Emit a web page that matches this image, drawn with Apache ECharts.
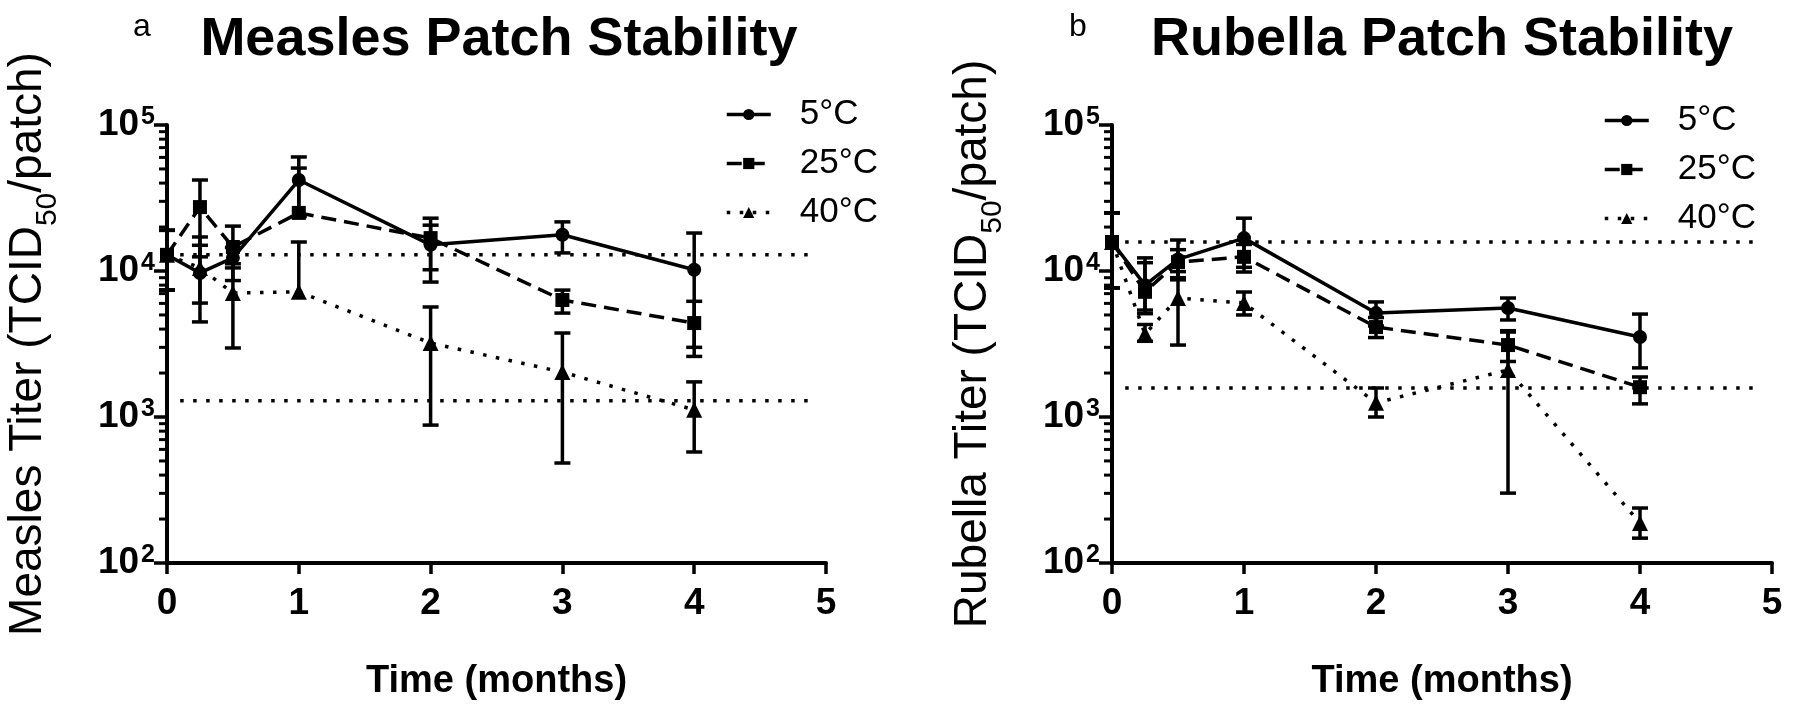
<!DOCTYPE html>
<html>
<head>
<meta charset="utf-8">
<script src="https://cdn.jsdelivr.net/npm/echarts@6/dist/echarts.min.js"></script>
<style>
html,body{margin:0;padding:0;background:#fff;}
#chart{width:1800px;height:713px;}
</style>
</head>
<body>
<div id="chart"></div>
<script>
// ---- data ----
var times = [0, 0.25, 0.5, 1, 2, 3, 4];
var seriesNames = ['5°C', '25°C', '40°C'];
var xTicks = [0, 1, 2, 3, 4, 5];
var yTicks = [100, 1000, 10000, 100000];

// Measles
var measles5 = [12900, 9700, 12300, 42000, 15100, 17700, 10200];
var measles5Low = [7400, 4480, 10500, 23600, 10200, 13300, 3000];
var measles5High = [19000, 17100, 14500, 60400, 20600, 21700, 18200];
var measles25 = [12900, 27400, 14600, 25000, 16800, 6330, 4400];
var measles25Low = [7400, 12500, 8600, null, 8400, 5150, 2600];
var measles25High = [19000, 42000, 20300, 50700, 23000, 7400, 6200];
var measles40 = [12900, 10500, 7060, 7200, 3210, 2030, 1120];
var measles40Low = [7400, 6030, 2970, null, 880, 484, 576];
var measles40High = [19000, 15000, 11200, 15800, 5670, 3760, 1740];
var measlesRef = [12900, 1290];

// Rubella
var rubella5 = [15800, 8000, 12000, 16800, 5150, 5580, 3530];
var rubella5Low = [7660, 5400, 8700, 10600, 4200, 4620, 2170];
var rubella5High = [25000, 12300, 16300, 23000, 6140, 6530, 5070];
var rubella25 = [15800, 7200, 11500, 12500, 4130, 3110, 1600];
var rubella25Low = [7660, 5100, 9000, 9840, 3500, 2400, 1230];
var rubella25High = [25000, 11400, 14000, 15200, 4800, 3820, 1880];
var rubella40 = [15800, 3700, 6530, 6040, 1250, 2100, 188];
var rubella40Low = [7660, 3300, 3110, 5000, 1000, 301, 148];
var rubella40High = [25000, 4300, 9900, 7180, 1580, 3900, 238];
var rubellaRef = [15800, 1580];
var refSpan = [0.1, 4.9];

// ---- helpers ----
var FONT = 'Liberation Sans, Arial, Helvetica, sans-serif';
var minorTicks = [];
[100, 1000, 10000].forEach(function (d) {
  for (var k = 2; k <= 9; k++) minorTicks.push(d * k);
});

function pts(vals) { return times.map(function (t, i) { return [t, vals[i]]; }); }
function errData(vals, lo, hi) {
  return times.map(function (t, i) {
    return [t, vals[i], lo[i] == null ? '-' : lo[i], hi[i] == null ? '-' : hi[i]];
  });
}
var CAP = 8;
function renderErr(params, api) {
  var x = api.value(0), m = api.value(1), lo = api.value(2), hi = api.value(3);
  var pm = api.coord([x, m]);
  var ch = [];
  var st = { stroke: '#000', lineWidth: 3.5, fill: null };
  [lo, hi].forEach(function (v) {
    if (v == null || isNaN(v)) return;
    var p = api.coord([x, v]);
    ch.push({ type: 'line', shape: { x1: pm[0], y1: pm[1], x2: p[0], y2: p[1] }, style: st });
    ch.push({ type: 'line', shape: { x1: p[0] - CAP, y1: p[1], x2: p[0] + CAP, y2: p[1] }, style: st });
  });
  return { type: 'group', children: ch };
}
// y-axis tick marks placed through the log scale (value -> pixel via api.coord)
function renderTick(params, api) {
  var p = api.coord([0, api.value(1)]);
  var len = api.value(2) ? 13 : 8;
  return {
    type: 'line',
    shape: { x1: p[0] - len, y1: p[1], x2: p[0], y2: p[1] },
    style: { stroke: '#000', lineWidth: api.value(2) ? 3.5 : 3, fill: null }
  };
}
function tickData() {
  var d = yTicks.map(function (v) { return [0, v, 1]; });
  return d.concat(minorTicks.map(function (v) { return [0, v, 0]; }));
}

var styles = [
  { symbol: 'circle', size: 14, type: 'solid' },
  { symbol: 'rect', size: 14, type: [15, 8] },
  { symbol: 'triangle', size: 16, type: [3.5, 9.5] }
];

function buildSeries(gi, sets, ref) {
  var out = [];
  out.push({
    type: 'custom', xAxisIndex: gi, yAxisIndex: gi, z: 5, clip: false, silent: true,
    renderItem: renderTick, data: tickData(), encode: { x: 0, y: 1 }
  });
  sets.forEach(function (s, i) {
    out.push({
      type: 'custom', xAxisIndex: gi, yAxisIndex: gi, z: 2,
      renderItem: renderErr, data: errData(s[0], s[1], s[2]),
      encode: { x: 0, y: [1, 2, 3] }, silent: true
    });
    out.push({
      name: seriesNames[i], type: 'line', xAxisIndex: gi, yAxisIndex: gi, z: 3,
      data: pts(s[0]), symbol: styles[i].symbol, symbolSize: styles[i].size,
      itemStyle: { color: '#000' },
      lineStyle: { color: '#000', width: 3.5, type: styles[i].type },
      animation: false
    });
  });
  ref.forEach(function (r) {
    out.push({
      type: 'line', xAxisIndex: gi, yAxisIndex: gi, z: 1, symbol: 'none',
      data: [[refSpan[0], r], [refSpan[1], r]],
      lineStyle: { color: '#000', width: 3.5, type: [3.5, 9.5] }, silent: true
    });
  });
  return out;
}

var grids = [
  { left: 167, top: 125, width: 659, height: 438 },
  { left: 1112, top: 125, width: 660, height: 438 }
];

function xAxisDef(gi) {
  return {
    type: 'value', gridIndex: gi, min: 0, max: 5, interval: 1,
    name: 'Time (months)', nameLocation: 'middle', nameGap: 100,
    nameTextStyle: { fontFamily: FONT, fontSize: 38, fontWeight: 'bold', color: '#000' },
    axisLine: { show: true, onZero: false, lineStyle: { color: '#000', width: 4 } },
    axisTick: { show: true, length: 11, lineStyle: { color: '#000', width: 3.5 }, customValues: xTicks },
    axisLabel: { fontFamily: FONT, fontSize: 37, fontWeight: 'bold', color: '#000', margin: 22, customValues: xTicks },
    splitLine: { show: false }
  };
}
function yAxisDef(gi, name) {
  return {
    type: 'log', logBase: 10, gridIndex: gi, min: yTicks[0], max: yTicks[yTicks.length - 1],
    name: name, nameLocation: 'middle', nameGap: 110,
    nameTextStyle: {
      fontFamily: FONT, fontSize: 46, color: '#000',
      rich: {
        a: { fontFamily: FONT, fontSize: 46, color: '#000', lineHeight: 58 },
        sub: { fontFamily: FONT, fontSize: 30, color: '#000', lineHeight: 58, verticalAlign: 'bottom', padding: [0, 0, -6, 0] }
      }
    },
    axisLine: { show: true, onZero: false, lineStyle: { color: '#000', width: 4 } },
    axisTick: { show: false },
    axisLabel: {
      margin: 12,
      formatter: function (v) { return '{b|10}{s|' + Math.round(Math.log10(v)) + '}'; },
      rich: {
        b: { fontFamily: FONT, fontSize: 37, fontWeight: 'bold', color: '#000', lineHeight: 40 },
        s: { fontFamily: FONT, fontSize: 25, fontWeight: 'bold', color: '#000', lineHeight: 40, verticalAlign: 'top', padding: [0, 0, 14, 2] }
      }
    },
    splitLine: { show: false }
  };
}

var series = buildSeries(0, [
  [measles5, measles5Low, measles5High],
  [measles25, measles25Low, measles25High],
  [measles40, measles40Low, measles40High]
], measlesRef).concat(buildSeries(1, [
  [rubella5, rubella5Low, rubella5High],
  [rubella25, rubella25Low, rubella25High],
  [rubella40, rubella40Low, rubella40High]
], rubellaRef));

function legendDef(left, top) {
  return {
    data: seriesNames, orient: 'vertical', left: left, top: top,
    itemWidth: 44, itemHeight: 14, itemGap: 14,
    lineStyle: { width: 3.5 },
    textStyle: { fontFamily: FONT, fontSize: 35, color: '#000', padding: [0, 0, 0, 24] },
    selectedMode: false
  };
}

var option = {
  backgroundColor: '#fff',
  animation: false,
  title: [
    { text: 'Measles Patch Stability', left: 494, top: 8, textAlign: 'center',
      textStyle: { fontFamily: FONT, fontSize: 54, fontWeight: 'bold', color: '#000' } },
    { text: 'Rubella Patch Stability', left: 1437, top: 8, textAlign: 'center',
      textStyle: { fontFamily: FONT, fontSize: 54, fontWeight: 'bold', color: '#000' } },
    { text: 'a', left: 128, top: 6, textStyle: { fontFamily: FONT, fontSize: 32, fontWeight: 'normal', color: '#000' } },
    { text: 'b', left: 1064, top: 6, textStyle: { fontFamily: FONT, fontSize: 32, fontWeight: 'normal', color: '#000' } }
  ],
  legend: [legendDef(720, 92), legendDef(1598, 98)],
  grid: grids,
  xAxis: [xAxisDef(0), xAxisDef(1)],
  yAxis: [
    yAxisDef(0, '{a|Measles Titer (TCID}{sub|50}{a|/patch)}'),
    yAxisDef(1, '{a|Rubella Titer (TCID}{sub|50}{a|/patch)}')
  ],
  series: series
};

var chart = echarts.init(document.getElementById('chart'), null, { renderer: 'canvas' });
chart.setOption(option);
</script>
</body>
</html>
